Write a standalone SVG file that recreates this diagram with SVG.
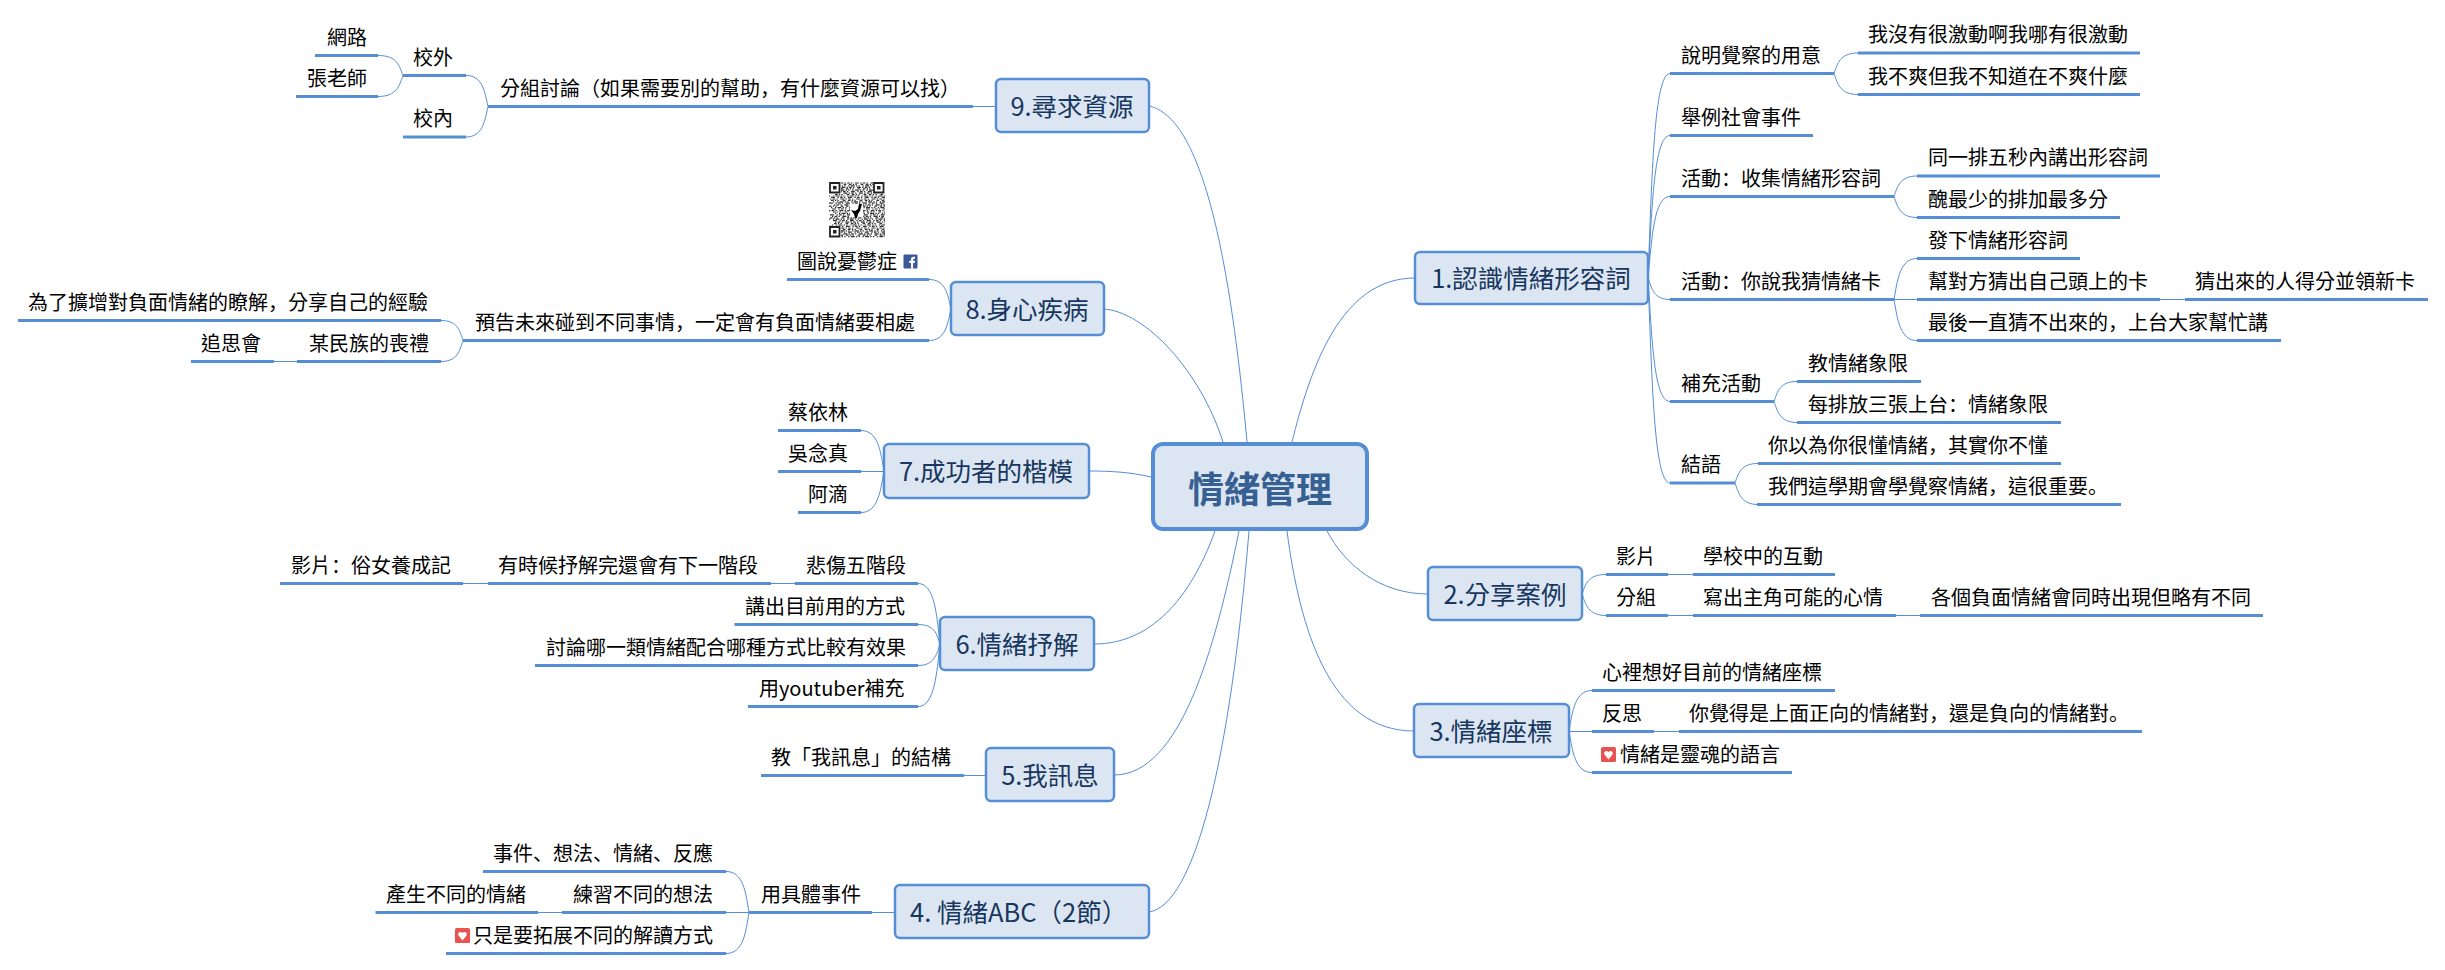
<svg xmlns="http://www.w3.org/2000/svg" width="2445" height="970" viewBox="0 0 2445 970">
<style>
text{font-family:"Noto Sans CJK TC","Noto Sans CJK SC",sans-serif;font-size:20px;fill:#000;transform:translateY(.7px)}
tspan.p{font-family:"Noto Sans CJK SC","Noto Sans CJK TC",sans-serif}
.u{stroke:#558ed5;stroke-width:3;fill:none}
.c{stroke:#558ed5;stroke-width:1;fill:none}
.b{fill:#dce6f2;stroke:#558ed5;stroke-width:2.5}
.h{font-size:25.5px;fill:#17375e;text-anchor:middle}
.q1,.q2,.q3,.q4{stroke:#333;stroke-width:1.2;fill:none}
.q1{stroke-dasharray:1.3 1.3 2.6 1.3 1.3 2.6 3.9 1.3}
.q2{stroke-dasharray:2.6 1.3 1.3 1.3 1.3 3.9 2.6 2.6}
.q3{stroke-dasharray:1.3 2.6 1.3 1.3 3.9 1.3 1.3 1.3}
.q4{stroke-dasharray:3.9 2.6 1.3 1.3 2.6 1.3 1.3 2.6}
</style>
<g id="connectors" class="c">
<path d="M1292 442C1310 370 1340 278 1415 278"/>
<path d="M1327 531C1345 565 1380 594 1428 594"/>
<path d="M1287 531C1300 630 1330 731 1414 731"/>
<path d="M1149 106C1190 115 1225 200 1247 442"/>
<path d="M1104 309C1145 312 1200 370 1223 442"/>
<path d="M1089 471C1110 471 1130 472 1151 477"/>
<path d="M1094 644C1150 644 1190 600 1215 531"/>
<path d="M1114 775C1180 775 1215 650 1239 531"/>
<path d="M1149 912C1195 905 1230 760 1249 531"/>
<path d="M1648 278c4 -102 6 -204.500 22 -204.500M1648 278c4 -71 6 -142.500 22 -142.500M1648 278c4 -41 6 -81.500 22 -81.500M1648 278c4 11 6 21.500 22 21.500M1648 278c4 62 6 123.500 22 123.500M1648 278c4 102 6 205 22 205"/>
<path d="M1834 73.500c3.600 -10 6 -20.500 24 -20.500M1834 73.500c3.600 10 6 21 24 21"/>
<path d="M1894 196.500c3.500 -10 6 -20.500 23 -20.500M1894 196.500c3.500 10 6 21 23 21"/>
<path d="M1894 299.500c3.500 -20 6 -41 23 -41M1894 299.500h23M1894 299.500c3.500 20 6 41 23 41M2160 299.500h25"/>
<path d="M1774 401.500c3.500 -10 6 -20 23 -20M1774 401.500c3.500 10 6 21 23 21"/>
<path d="M1735 483c3.500 -10 6 -19.500 23 -19.500M1735 483c3.500 10 6 21.500 23 21.500"/>
<path d="M1582 594c3.600 -10 6 -19.500 24 -19.500M1582 594c3.600 10 6 21.500 24 21.500M1668 574.500h25M1668 615.500h25M1896 615.500h24"/>
<path d="M1569 731c3.500 -20 6 -40.500 23 -40.500M1569 731.500h23M1569 731c3.500 20 6 41.500 23 41.500M1654 731.500h25"/>
<path d="M973 106.500h23M488 106.500c-3.300 -15 -5.500 -31 -22 -31M488 106.500c-3.300 15 -5.500 30.500 -22 30.500M403 75.500c-3.700 -10 -6 -20 -25 -20M403 75.500c-3.700 10 -6 21 -25 21"/>
<path d="M951 309c-3.300 -15 -5.500 -29.500 -22 -29.500M951 309c-3.300 15 -5.500 31.500 -22 31.500M463 340.500c-3.300 -10 -5.500 -20 -22 -20M463 340.500c-3.300 10 -5.500 21 -22 21M297 361.500h-23"/>
<path d="M884 471c-3.500 -20 -6 -40.500 -23 -40.500M884 471.500h-23M884 471c-3.500 20 -6 41.500 -23 41.500"/>
<path d="M940 644c-3.300 -30 -5.500 -60.500 -22 -60.500M940 644c-3.300 -10 -5.500 -19.500 -22 -19.500M940 644c-3.300 10 -5.500 21.500 -22 21.500M940 644c-3.300 30 -5.500 62.500 -22 62.500M795 583.500h-24M488 583.500h-25"/>
<path d="M986 775.500h-22"/>
<path d="M895 912.500h-23M749 912.500c-3.300 -20 -5.500 -41 -23 -41M749 912.500h-23M749 912.500c-3.300 20 -5.500 41 -23 41M562 912.500h-24"/>
</g>
<g id="center"><rect x="1153" y="444" width="214" height="85" rx="10" fill="#dce6f2" stroke="#558ed5" stroke-width="4"/><text x="1260" y="502" text-anchor="middle" style="font-size:36px;font-weight:700;fill:#376092">情緒管理</text></g>

<g id="n1"><rect class="b" x="1415" y="252" width="233" height="52" rx="5"/><text class="h" x="1531" y="287">1.認識情緒形容詞</text></g>
<g id="n1-1"><path class="u" d="M1670 73.500H1834"/><text x="1681" y="62">說明覺察的用意</text></g>
<g id="n1-1-1"><path class="u" d="M1858 53H2140"/><text x="1868" y="41.500">我沒有很激動啊我哪有很激動</text></g>
<g id="n1-1-2"><path class="u" d="M1858 94.500H2140"/><text x="1868" y="83">我不爽但我不知道在不爽什麼</text></g>
<g id="n1-2"><path class="u" d="M1670 135.500H1813"/><text x="1681" y="124">舉例社會事件</text></g>
<g id="n1-3"><path class="u" d="M1670 196.500H1894"/><text x="1681" y="185">活動<tspan class="p">&#xFF1A;</tspan>收集情緒形容詞</text></g>
<g id="n1-3-1"><path class="u" d="M1917 176H2160"/><text x="1928" y="164.500">同一排五秒內講出形容詞</text></g>
<g id="n1-3-2"><path class="u" d="M1917 217.500H2120"/><text x="1928" y="206">醜最少的排加最多分</text></g>
<g id="n1-4"><path class="u" d="M1670 299.500H1894"/><text x="1681" y="288">活動<tspan class="p">&#xFF1A;</tspan>你說我猜情緒卡</text></g>
<g id="n1-4-1"><path class="u" d="M1917 258.500H2080"/><text x="1928" y="247">發下情緒形容詞</text></g>
<g id="n1-4-2"><path class="u" d="M1917 299.500H2160"/><text x="1928" y="288">幫對方猜出自己頭上的卡</text></g>
<g id="n1-4-2-1"><path class="u" d="M2185 299.500H2428"/><text x="2195" y="288">猜出來的人得分並領新卡</text></g>
<g id="n1-4-3"><path class="u" d="M1917 340.500H2281"/><text x="1928" y="329">最後一直猜不出來的<tspan class="p">&#xFF0C;</tspan>上台大家幫忙講</text></g>
<g id="n1-5"><path class="u" d="M1670 401.500H1774"/><text x="1681" y="390">補充活動</text></g>
<g id="n1-5-1"><path class="u" d="M1797 381.500H1921"/><text x="1808" y="370">教情緒象限</text></g>
<g id="n1-5-2"><path class="u" d="M1797 422.500H2061"/><text x="1808" y="411">每排放三張上台<tspan class="p">&#xFF1A;</tspan>情緒象限</text></g>
<g id="n1-6"><path class="u" d="M1670 483H1735"/><text x="1681" y="471.500">結語</text></g>
<g id="n1-6-1"><path class="u" d="M1758 463.500H2061"/><text x="1768" y="452">你以為你很懂情緒<tspan class="p">&#xFF0C;</tspan>其實你不懂</text></g>
<g id="n1-6-2"><path class="u" d="M1757 504.500H2121"/><text x="1768" y="493">我們這學期會學覺察情緒<tspan class="p">&#xFF0C;</tspan>這很重要<tspan class="p">&#x3002;</tspan></text></g>

<g id="n2"><rect class="b" x="1428" y="567" width="154" height="53" rx="5"/><text class="h" x="1505" y="603">2.分享案例</text></g>
<g id="n2-1"><path class="u" d="M1606 574.500H1668"/><text x="1616" y="563">影片</text></g>
<g id="n2-1-1"><path class="u" d="M1693 574.500H1835"/><text x="1703" y="563">學校中的互動</text></g>
<g id="n2-2"><path class="u" d="M1606 615.500H1668"/><text x="1616" y="604">分組</text></g>
<g id="n2-2-1"><path class="u" d="M1693 615.500H1896"/><text x="1703" y="604">寫出主角可能的心情</text></g>
<g id="n2-2-1-1"><path class="u" d="M1920 615.500H2263"/><text x="1931" y="604">各個負面情緒會同時出現但略有不同</text></g>

<g id="n3"><rect class="b" x="1414" y="704" width="155" height="53" rx="5"/><text class="h" x="1491" y="740">3.情緒座標</text></g>
<g id="n3-1"><path class="u" d="M1592 690.500H1835"/><text x="1602" y="679">心裡想好目前的情緒座標</text></g>
<g id="n3-2"><path class="u" d="M1592 731.500H1654"/><text x="1602" y="720">反思</text></g>
<g id="n3-2-1"><path class="u" d="M1679 731.500H2142"/><text x="1689" y="720">你覺得是上面正向的情緒對<tspan class="p">&#xFF0C;</tspan>還是負向的情緒對<tspan class="p">&#x3002;</tspan></text></g>
<g id="n3-3"><path class="u" d="M1592 772.500H1792"/><rect x="1601" y="747" width="15" height="15" rx="1.500" fill="#e8534f"/><path d="M1608.500 759.500l-4 -5a2.300 2.300 0 0 1 4 -2.300a2.300 2.300 0 0 1 4 2.300z" fill="#fff"/><text x="1620" y="761">情緒是靈魂的語言</text></g>

<g id="n9"><rect class="b" x="996" y="79" width="153" height="53" rx="5"/><text class="h" x="1072" y="115">9.尋求資源</text></g>
<g id="n9-1"><path class="u" d="M488 106.500H973"/><text x="500" y="95">分組討論&#xFF08;如果需要別的幫助<tspan class="p">&#xFF0C;</tspan>有什麼資源可以找&#xFF09;</text></g>
<g id="n9-1-1"><path class="u" d="M403 75.500H466"/><text x="413" y="64">校外</text></g>
<g id="n9-1-2"><path class="u" d="M403 137H466"/><text x="413" y="125.500">校內</text></g>
<g id="n9-1-1-1"><path class="u" d="M315 55.500H378"/><text x="327" y="44">網路</text></g>
<g id="n9-1-1-2"><path class="u" d="M296 96.500H378"/><text x="307" y="85">張老師</text></g>

<g id="n8"><rect class="b" x="951" y="282" width="153" height="53" rx="5"/><text class="h" x="1027" y="318">8.身心疾病</text></g>
<g id="n8-1"><path class="u" d="M787 279.500H929"/><text x="797" y="268">圖說憂鬱症</text><rect x="903.500" y="254.500" width="14" height="14" rx="1" fill="#3b5998"/><path d="M911 268.500v-5.500h-1.800v-2.200h1.800v-1.600c0-1.700 1-2.500 2.500-2.500h1.500v2.100h-1c-.7 0-.9.300-.9.900v1.100h1.900l-.3 2.200h-1.600v5.500z" fill="#fff"/></g>
<g id="qr">
<path class="q1" d="M829 183h56M831 187.400h54M833 193.200h52M830 199h55M834 204.800h51M829 210.600h56M832 216.400h53M835 222.200h50M830 228h55M833 233.800h52"/>
<path class="q2" d="M832 184.400h53M829 188.800h56M835 194.600h50M831 200.400h54M829 206.200h56M833 212h52M830 217.800h55M834 223.600h51M831 229.400h54M829 235.200h56"/>
<path class="q3" d="M830 185.800h55M834 190.200h51M829 196h56M833 201.800h52M831 207.600h54M835 213.400h50M829 219.200h56M832 225h53M834 230.800h51M830 236.600h55"/>
<path class="q4" d="M834 191.600h51M831 197.400h54M829 203.200h56M832 209h53M830 214.800h55M833 220.600h52M829 226.400h56M831 232.200h54"/>
<path d="M829 182h12v12h-12zM873 182h12v12h-12zM829 226h12v12h-12zM850 204h13v13h-13z" fill="#fff"/>
<path d="M830 183h9.500v9.500h-9.500zM874 183h9.500v9.500h-9.500zM830 227h9.500v9.500h-9.500z" fill="none" stroke="#222" stroke-width="1.800"/>
<path d="M833 186h3.500v3.500h-3.500zM877 186h3.500v3.500h-3.500zM833 230h3.500v3.500h-3.500z" fill="#222"/>
<path d="M862 204l-3 0-1 5-3 2-4-1 3 4 1 4 2 0 1-4 2-3z" fill="#000"/>
</g>
<g id="n8-2"><path class="u" d="M463 340.500H929"/><text x="475" y="329">預告未來碰到不同事情<tspan class="p">&#xFF0C;</tspan>一定會有負面情緒要相處</text></g>
<g id="n8-2-1"><path class="u" d="M18 320.500H441"/><text x="28" y="309">為了擴增對負面情緒的瞭解<tspan class="p">&#xFF0C;</tspan>分享自己的經驗</text></g>
<g id="n8-2-2"><path class="u" d="M297 361.500H441"/><text x="309" y="350">某民族的喪禮</text></g>
<g id="n8-2-2-1"><path class="u" d="M191 361.500H274"/><text x="201" y="350">追思會</text></g>

<g id="n7"><rect class="b" x="884" y="444" width="205" height="54" rx="5"/><text class="h" x="986" y="480">7.成功者的楷模</text></g>
<g id="n7-1"><path class="u" d="M778 430.500H861"/><text x="788" y="419">蔡依林</text></g>
<g id="n7-2"><path class="u" d="M778 471.500H861"/><text x="788" y="460">吳念真</text></g>
<g id="n7-3"><path class="u" d="M798 512.500H861"/><text x="808" y="501">阿滴</text></g>

<g id="n6"><rect class="b" x="940" y="617" width="154" height="53" rx="5"/><text class="h" x="1017" y="653">6.情緒抒解</text></g>
<g id="n6-1"><path class="u" d="M795 583.500H918"/><text x="806" y="572">悲傷五階段</text></g>
<g id="n6-1-1"><path class="u" d="M488 583.500H771"/><text x="498" y="572">有時候抒解完還會有下一階段</text></g>
<g id="n6-1-1-1"><path class="u" d="M280 583.500H463"/><text x="291" y="572">影片<tspan class="p">&#xFF1A;</tspan>俗女養成記</text></g>
<g id="n6-2"><path class="u" d="M734.500 624.500H918"/><text x="745" y="613">講出目前用的方式</text></g>
<g id="n6-3"><path class="u" d="M535 665.500H918"/><text x="546" y="654">討論哪一類情緒配合哪種方式比較有效果</text></g>
<g id="n6-4"><path class="u" d="M748 706.500H918"/><text x="759" y="695">用youtuber補充</text></g>

<g id="n5"><rect class="b" x="986" y="748" width="128" height="53" rx="5"/><text class="h" x="1050" y="784">5.我訊息</text></g>
<g id="n5-1"><path class="u" d="M761 775.500H964"/><text x="771" y="764">教「我訊息」的結構</text></g>

<g id="n4"><rect class="b" x="895" y="885" width="254" height="53" rx="5"/><text class="h" x="910" y="921" style="text-anchor:start">4. 情緒ABC&#xFF08;2節&#xFF09;</text></g>
<g id="n4-1"><path class="u" d="M749 912.500H872"/><text x="761" y="901">用具體事件</text></g>
<g id="n4-1-1"><path class="u" d="M483 871.500H726"/><text x="493" y="860">事件<tspan class="p">&#x3001;</tspan>想法<tspan class="p">&#x3001;</tspan>情緒<tspan class="p">&#x3001;</tspan>反應</text></g>
<g id="n4-1-2"><path class="u" d="M562 912.500H726"/><text x="573" y="901">練習不同的想法</text></g>
<g id="n4-1-2-1"><path class="u" d="M375.500 912.500H538"/><text x="386" y="901">產生不同的情緒</text></g>
<g id="n4-1-3"><path class="u" d="M446 953.500H726"/><rect x="455" y="928" width="15" height="15" rx="1.500" fill="#e8534f"/><path d="M462.500 940.500l-4 -5a2.300 2.300 0 0 1 4 -2.300a2.300 2.300 0 0 1 4 2.300z" fill="#fff"/><text x="473" y="942">只是要拓展不同的解讀方式</text></g>
</svg>
